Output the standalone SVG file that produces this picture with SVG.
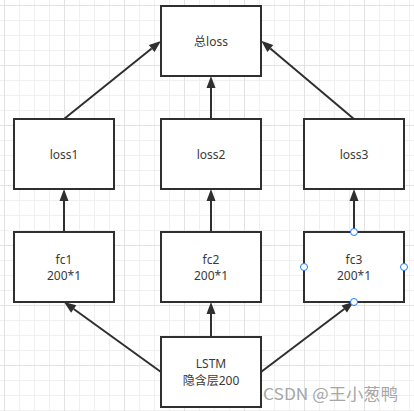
<svg xmlns="http://www.w3.org/2000/svg" width="414" height="411" viewBox="0 0 414 411">
<style>
.box{fill:#ffffff;stroke:#2f2f2f;stroke-width:2}
.lbl{font-family:"Noto Sans","Noto Sans CJK SC",sans-serif;font-size:12px;fill:#3a3a3a;text-anchor:middle}
.edge{fill:none;stroke:#2f2f2f;stroke-width:2}
.pt{fill:#ffffff;stroke:#1a7cff;stroke-width:1}
</style>
<defs>
<marker id="arr" markerUnits="userSpaceOnUse" markerWidth="14" markerHeight="12" refX="0" refY="4.5" orient="auto" viewBox="0 0 14 9" overflow="visible">
<path d="M0,0 L12,4.5 L0,9 Z" fill="#2f2f2f"/>
</marker>
</defs>
<rect width="414" height="411" fill="#ffffff"/>
<g id="grid" fill="none">
<path stroke="#f0f0f0" stroke-width="1" d="M4.5 0V411M19.5 0V411M34.5 0V411M49.5 0V411M64.5 0V411M79.5 0V411M94.5 0V411M109.5 0V411M124.5 0V411M139.5 0V411M154.5 0V411M169.5 0V411M184.5 0V411M199.5 0V411M214.5 0V411M229.5 0V411M244.5 0V411M259.5 0V411M274.5 0V411M289.5 0V411M304.5 0V411M319.5 0V411M334.5 0V411M349.5 0V411M364.5 0V411M379.5 0V411M394.5 0V411M409.5 0V411M0 5.5H414M0 20.5H414M0 35.5H414M0 50.5H414M0 65.5H414M0 80.5H414M0 95.5H414M0 110.5H414M0 125.5H414M0 140.5H414M0 155.5H414M0 170.5H414M0 185.5H414M0 200.5H414M0 215.5H414M0 230.5H414M0 245.5H414M0 260.5H414M0 275.5H414M0 290.5H414M0 305.5H414M0 320.5H414M0 335.5H414M0 350.5H414M0 365.5H414M0 380.5H414M0 395.5H414M0 410.5H414"/>
<path stroke="#e2e2e2" stroke-width="1" d="M4.5 0V411M64.5 0V411M124.5 0V411M184.5 0V411M244.5 0V411M304.5 0V411M364.5 0V411M0 5.5H414M0 65.5H414M0 125.5H414M0 185.5H414M0 245.5H414M0 305.5H414M0 365.5H414"/>
</g>
<g id="connectors">
<path class="edge" marker-end="url(#arr)" d="M64,119 L151.65,48.52"/>
<path class="edge" marker-end="url(#arr)" d="M211,119 L211,88"/>
<path class="edge" marker-end="url(#arr)" d="M354,119 L270.35,48.52"/>
<path class="edge" marker-end="url(#arr)" d="M64,232 L64,201"/>
<path class="edge" marker-end="url(#arr)" d="M211,232 L211,201"/>
<path class="edge" marker-end="url(#arr)" d="M354,232 L354,201"/>
<path class="edge" marker-end="url(#arr)" d="M161,372 L73.73,309.02"/>
<path class="edge" marker-end="url(#arr)" d="M211,337 L211,314"/>
<path class="edge" marker-end="url(#arr)" d="M261,372 L344.27,309.02"/>
</g>
<g id="total-loss">
<rect class="box" x="161" y="6" width="100" height="70"/>
<text class="lbl" x="211" y="45.5">总loss</text>
</g>
<g id="loss1">
<rect class="box" x="14" y="119" width="100" height="70"/>
<text class="lbl" x="64" y="158.5">loss1</text>
</g>
<g id="loss2">
<rect class="box" x="161" y="119" width="100" height="70"/>
<text class="lbl" x="211" y="158.5">loss2</text>
</g>
<g id="loss3">
<rect class="box" x="304" y="119" width="100" height="70"/>
<text class="lbl" x="354" y="158.5">loss3</text>
</g>
<g id="fc1">
<rect class="box" x="14" y="232" width="100" height="70"/>
<text class="lbl" x="64" y="264">fc1</text>
<text class="lbl" x="64" y="280">200*1</text>
</g>
<g id="fc2">
<rect class="box" x="161" y="232" width="100" height="70"/>
<text class="lbl" x="211" y="264">fc2</text>
<text class="lbl" x="211" y="280">200*1</text>
</g>
<g id="fc3">
<rect class="box" x="304" y="232" width="100" height="70"/>
<text class="lbl" x="354" y="264">fc3</text>
<text class="lbl" x="354" y="280">200*1</text>
<circle class="pt" cx="354" cy="232" r="3.5"/>
<circle class="pt" cx="304" cy="267" r="3.5"/>
<circle class="pt" cx="404" cy="267" r="3.5"/>
<circle class="pt" cx="354" cy="302" r="3.5"/>
</g>
<g id="lstm">
<rect class="box" x="161" y="337" width="100" height="70"/>
<text class="lbl" x="211" y="368">LSTM</text>
<text class="lbl" x="211" y="384.5">隐含层200</text>
</g>
<text x="263" y="400" font-family="Noto Sans CJK SC,Noto Sans,sans-serif" font-size="16" fill="#a6a6a6" textLength="135" lengthAdjust="spacingAndGlyphs">CSDN @王小葱鸭</text>
</svg>
